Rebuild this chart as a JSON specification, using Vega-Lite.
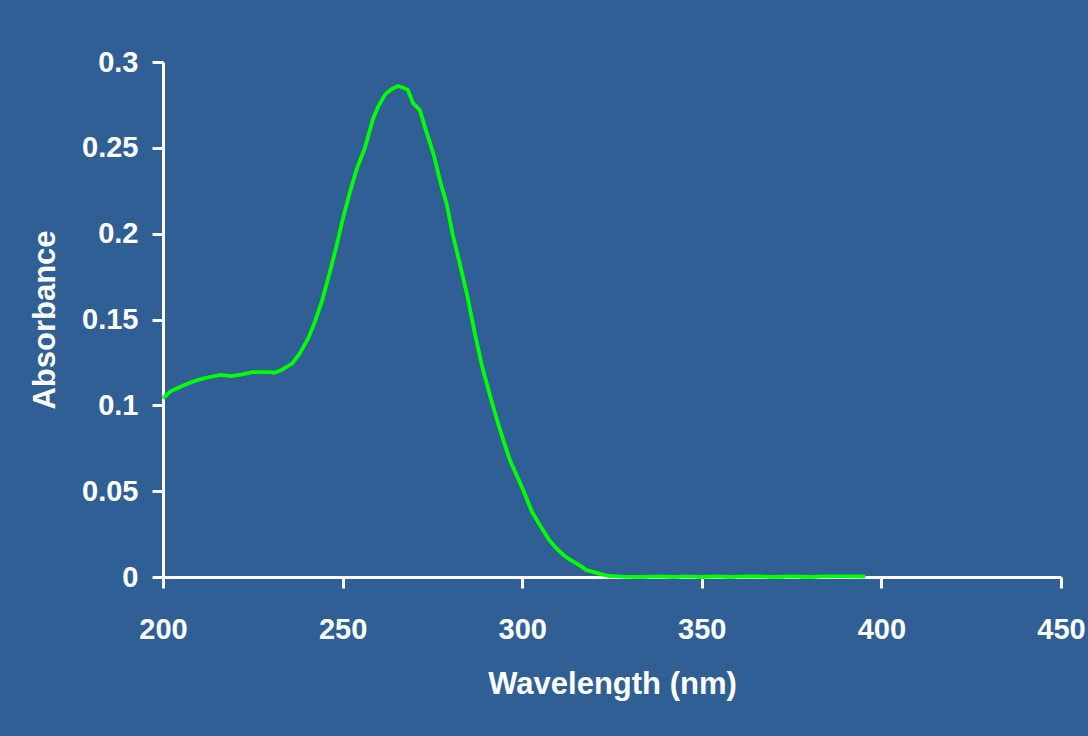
{
  "$schema": "https://vega.github.io/schema/vega-lite/v6.json",
  "width": 898,
  "height": 515,
  "autosize": "none",
  "padding": {"left": 163, "top": 62, "right": 27, "bottom": 159},
  "background": "#305f96",
  "config": {
    "view": {"stroke": null},
    "font": "Liberation Sans",
    "axis": {
      "domainColor": "white",
      "domainWidth": 3,
      "tickColor": "white",
      "tickWidth": 3,
      "tickSize": 11,
      "grid": false,
      "labelColor": "white",
      "labelFont": "Liberation Sans",
      "labelFontWeight": "bold",
      "labelFontSize": 29,
      "titleColor": "white",
      "titleFont": "Liberation Sans",
      "titleFontWeight": "bold",
      "titleFontSize": 31
    }
  },
  "data": {
    "values": [
      {"w": 200, "a": 0.104},
      {"w": 202, "a": 0.108},
      {"w": 205, "a": 0.111},
      {"w": 208, "a": 0.1136},
      {"w": 210, "a": 0.115},
      {"w": 213, "a": 0.1165},
      {"w": 216, "a": 0.1177},
      {"w": 219, "a": 0.117},
      {"w": 222, "a": 0.118},
      {"w": 225, "a": 0.1194},
      {"w": 230, "a": 0.1194},
      {"w": 231, "a": 0.119},
      {"w": 233, "a": 0.1206},
      {"w": 236, "a": 0.1245},
      {"w": 238, "a": 0.13},
      {"w": 240.4, "a": 0.139},
      {"w": 242, "a": 0.147},
      {"w": 244.3, "a": 0.161},
      {"w": 246.5, "a": 0.178},
      {"w": 248.2, "a": 0.192},
      {"w": 250, "a": 0.208},
      {"w": 252, "a": 0.224},
      {"w": 254, "a": 0.238},
      {"w": 256.2, "a": 0.25},
      {"w": 258.5, "a": 0.267},
      {"w": 259.9, "a": 0.274},
      {"w": 261.8, "a": 0.281},
      {"w": 263.5, "a": 0.284},
      {"w": 265.4, "a": 0.286},
      {"w": 267, "a": 0.285},
      {"w": 268.2, "a": 0.2837},
      {"w": 269.6, "a": 0.276},
      {"w": 271.5, "a": 0.272},
      {"w": 273, "a": 0.2615},
      {"w": 274.3, "a": 0.253},
      {"w": 275.5, "a": 0.245},
      {"w": 277.1, "a": 0.231},
      {"w": 279, "a": 0.217},
      {"w": 280.7, "a": 0.199},
      {"w": 282.7, "a": 0.182},
      {"w": 284.7, "a": 0.164},
      {"w": 286.6, "a": 0.144},
      {"w": 288.8, "a": 0.123},
      {"w": 291, "a": 0.106},
      {"w": 293, "a": 0.0915},
      {"w": 294.7, "a": 0.08},
      {"w": 296.6, "a": 0.068},
      {"w": 298.8, "a": 0.0577},
      {"w": 300.8, "a": 0.048},
      {"w": 302.7, "a": 0.038},
      {"w": 305, "a": 0.03},
      {"w": 307.5, "a": 0.0216},
      {"w": 309.4, "a": 0.017},
      {"w": 311.4, "a": 0.013},
      {"w": 313, "a": 0.0105},
      {"w": 315.3, "a": 0.0076},
      {"w": 318, "a": 0.004},
      {"w": 321.7, "a": 0.0018},
      {"w": 324, "a": 0.0006},
      {"w": 328, "a": 0.0002},
      {"w": 333, "a": 0.0},
      {"w": 338, "a": 0.0004},
      {"w": 342, "a": 0.0},
      {"w": 346, "a": 0.0004},
      {"w": 350, "a": 0.0},
      {"w": 354, "a": 0.0004},
      {"w": 358, "a": 0.0},
      {"w": 362, "a": 0.0004},
      {"w": 366, "a": 0.0003},
      {"w": 370, "a": 0.0},
      {"w": 375, "a": 0.0004},
      {"w": 380, "a": 0.0},
      {"w": 384, "a": 0.0004},
      {"w": 388, "a": 0.0004},
      {"w": 392, "a": 0.0004},
      {"w": 395.5, "a": 0.0003}
    ]
  },
  "mark": {"type": "line", "color": "#00ff00", "strokeWidth": 3.8, "clip": false},
  "encoding": {
    "x": {
      "field": "w",
      "type": "quantitative",
      "scale": {"domain": [200, 450], "nice": false, "zero": false},
      "axis": {
        "title": "Wavelength (nm)",
        "values": [200, 250, 300, 350, 400, 450],
        "labelPadding": 27,
        "titlePadding": 25,
        "labelFlush": false
      }
    },
    "y": {
      "field": "a",
      "type": "quantitative",
      "scale": {"domain": [0, 0.3], "nice": false},
      "axis": {
        "title": "Absorbance",
        "values": [0, 0.05, 0.1, 0.15, 0.2, 0.25, 0.3],
        "format": "~g",
        "labelPadding": 14,
        "titlePadding": 20,
        "labelFlush": false
      }
    }
  }
}
